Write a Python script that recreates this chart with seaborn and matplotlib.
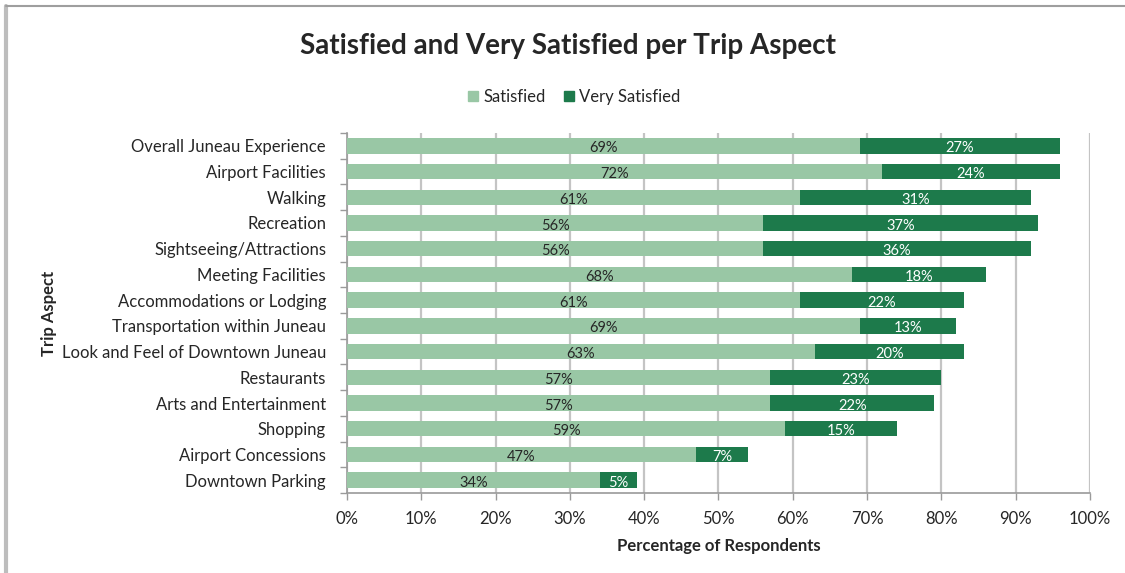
import matplotlib
matplotlib.use("Agg")
import matplotlib.pyplot as plt
from matplotlib.lines import Line2D
from matplotlib.ticker import FixedLocator, PercentFormatter
import numpy as np
import pandas as pd
import seaborn as sns

aspects = [
    "Overall Juneau Experience",
    "Airport Facilities",
    "Walking",
    "Recreation",
    "Sightseeing/Attractions",
    "Meeting Facilities",
    "Accommodations or Lodging",
    "Transportation within Juneau",
    "Look and Feel of Downtown Juneau",
    "Restaurants",
    "Arts and Entertainment",
    "Shopping",
    "Airport Concessions",
    "Downtown Parking",
]
satisfied = [69, 72, 61, 56, 56, 68, 61, 69, 63, 57, 57, 59, 47, 34]
very_satisfied = [27, 24, 31, 37, 36, 18, 22, 13, 20, 23, 22, 15, 7, 5]

LIGHT = "#99c7a5"
DARK = "#1d7a4b"
TEXT = "#262626"

sns.set_theme(style="white")
plt.rcParams["font.family"] = ["Lato", "DejaVu Sans"]

df = pd.DataFrame({
    "aspect": aspects,
    "satisfied": satisfied,
    "very": very_satisfied,
})
df["total"] = df["satisfied"] + df["very"]

fig = plt.figure(figsize=(11.25, 5.73), dpi=100)
ax = fig.add_axes([0.3084, 0.1396, 0.9689 - 0.3084, 0.7679 - 0.1396])

# stacked horizontal bars: full total first, satisfied portion drawn on top
sns.barplot(data=df, y="aspect", x="total", color=DARK, saturation=1,
            width=0.6, ax=ax, orient="h", zorder=3, linewidth=0)
sns.barplot(data=df, y="aspect", x="satisfied", color=LIGHT, saturation=1,
            width=0.6, ax=ax, orient="h", zorder=4, linewidth=0)

for i, (s, v) in enumerate(zip(satisfied, very_satisfied)):
    ax.text(s / 2, i + 0.1, f"{s}%", ha="center", va="center",
            fontsize=10.5, color=TEXT, zorder=6)
    ax.text(s + v / 2, i + 0.1, f"{v}%", ha="center", va="center",
            fontsize=10.5, color="white", zorder=6)

ax.set_xlim(0, 100)
ax.set_ylim(len(aspects) - 0.5, -0.5)
ax.xaxis.set_major_locator(FixedLocator(np.arange(0, 101, 10)))
ax.xaxis.set_major_formatter(PercentFormatter(decimals=0))
ax.grid(axis="x", color="#c4c4c4", linewidth=1.6, zorder=0)
ax.set_axisbelow(True)

ax.yaxis.set_minor_locator(FixedLocator(np.arange(-0.5, len(aspects), 1)))
ax.tick_params(axis="y", which="major", length=0, pad=15, labelsize=12,
               labelcolor=TEXT)
ax.tick_params(axis="y", which="minor", length=5, width=1, color="#9a9a9a",
               direction="out", left=True)
ax.tick_params(axis="x", which="major", length=5, width=1, color="#9a9a9a",
               direction="out", bottom=True, pad=8, labelsize=12,
               labelcolor=TEXT)

for side in ("top", "right"):
    ax.spines[side].set_visible(False)
for side in ("left", "bottom"):
    ax.spines[side].set_color("#9a9a9a")
    ax.spines[side].set_linewidth(1.2)

ax.set_ylabel("Trip Aspect", fontsize=12, fontweight="bold", color=TEXT)
ax.yaxis.set_label_coords(-0.39, 0.5)
ax.set_xlabel("Percentage of Respondents", fontsize=12, fontweight="bold",
              color=TEXT, labelpad=8)

fig.text(0.505, 0.92, "Satisfied and Very Satisfied per Trip Aspect",
         ha="center", va="center", fontsize=20, fontweight="bold", color=TEXT)

handles = [
    Line2D([], [], marker="s", linestyle="none", markersize=7,
           markerfacecolor=LIGHT, markeredgecolor=LIGHT, label="Satisfied"),
    Line2D([], [], marker="s", linestyle="none", markersize=7,
           markerfacecolor=DARK, markeredgecolor=DARK, label="Very Satisfied"),
]
fig.legend(handles=handles, loc="center", bbox_to_anchor=(0.508, 0.831),
           ncol=2, frameon=False, fontsize=12, handletextpad=0.0,
           columnspacing=0.8, handlelength=1.2, labelcolor=TEXT)

# chart frame edges
fig.add_artist(Line2D([0.0053, 0.0053], [0.0, 0.989], transform=fig.transFigure,
                      color="#bdbdbd", linewidth=3))
fig.add_artist(Line2D([0.0053, 1.0], [0.989, 0.989], transform=fig.transFigure,
                      color="#9e9e9e", linewidth=1.5))

fig.savefig("out.png", dpi=100, facecolor="white")
